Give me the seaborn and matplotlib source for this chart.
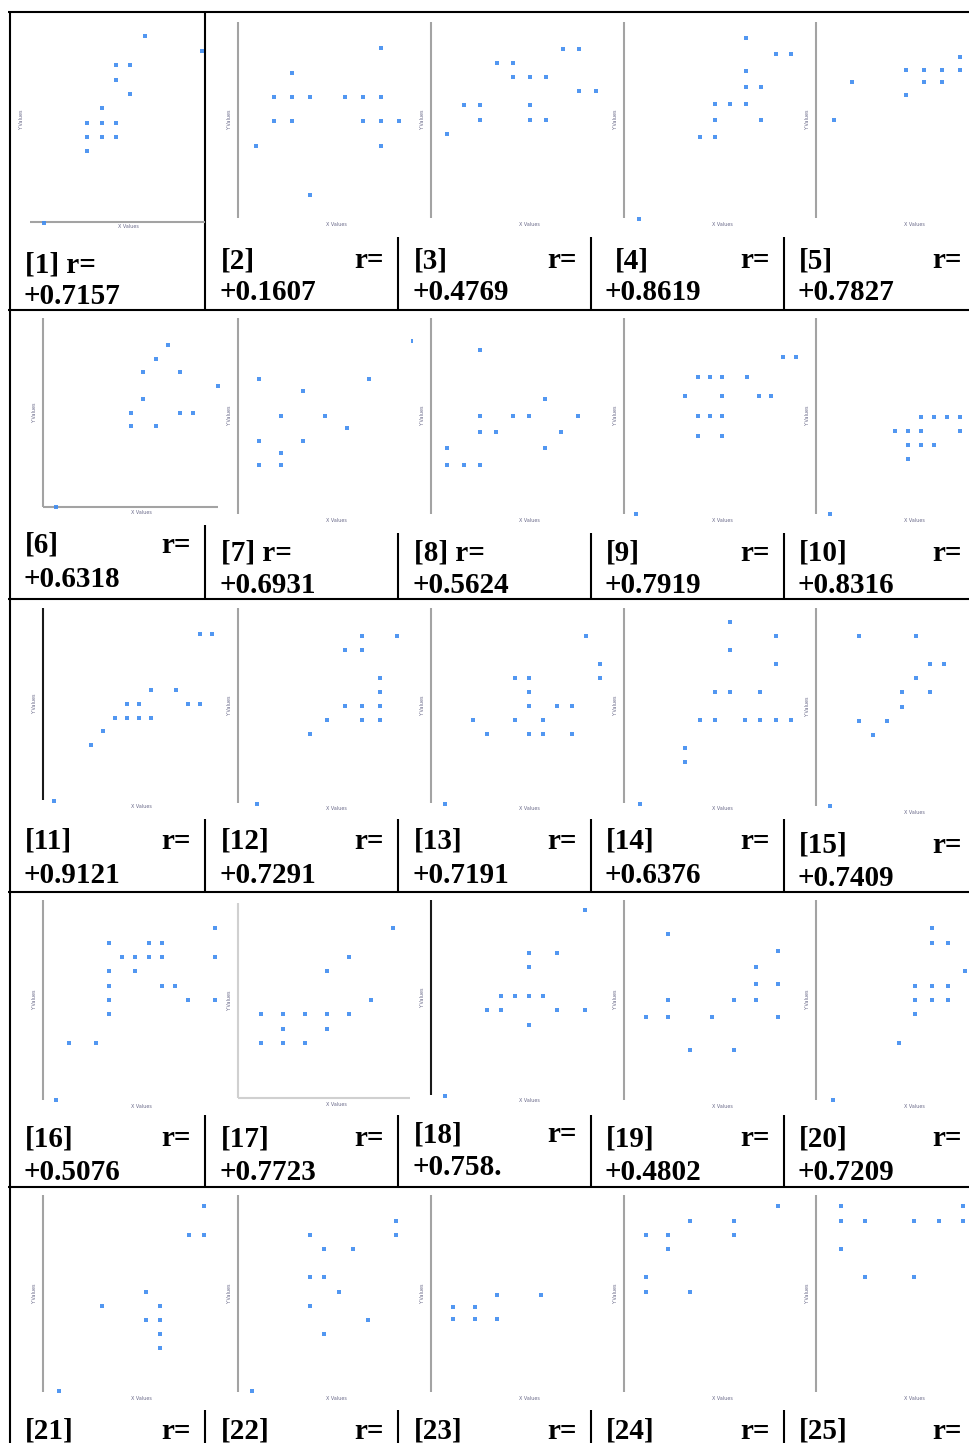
import numpy as np
import pandas as pd
import seaborn as sns
import matplotlib
matplotlib.use('Agg')
import matplotlib.pyplot as plt

# Points of each small scatter, on the integer grid of its own chart
x01 = [0, 3, 3, 4, 5, 3, 4, 5, 4, 6, 5, 5, 6, 7, 11]
y01 = [0, 5, 6, 6, 6, 7, 7, 7, 8, 9, 10, 11, 11, 13, 12]
x02 = [8, 3, 2, 3, 4, 6, 7, 8, 2, 3, 7, 8, 9, 1, 8, 4]
y02 = [7, 6, 5, 5, 5, 5, 5, 5, 4, 4, 4, 4, 4, 3, 3, 1]
x03 = [8, 9, 4, 5, 5, 6, 7, 9, 10, 2, 3, 6, 3, 6, 7, 1]
y03 = [12, 12, 11, 11, 10, 10, 10, 9, 9, 8, 8, 8, 7, 7, 7, 6]
x04 = [1, 5, 6, 6, 9, 6, 7, 8, 8, 9, 8, 10, 11, 8]
y04 = [0, 5, 5, 6, 6, 7, 7, 7, 8, 8, 9, 10, 10, 11]
x05 = [1, 2, 5, 5, 6, 7, 8, 6, 7, 8]
y05 = [8, 11, 10, 12, 12, 12, 12, 11, 11, 13]
x06 = [1, 7, 9, 7, 11, 12, 8, 14, 8, 11, 9, 10]
y06 = [0, 6, 6, 7, 7, 7, 8, 9, 10, 10, 11, 12]
x07 = [1, 6, 3, 2, 4, 5, 1, 3, 2, 1, 2, 8]
y07 = [11, 11, 10, 8, 8, 7, 6, 6, 5, 4, 4, 14]
x08 = [3, 7, 3, 5, 6, 9, 3, 4, 8, 1, 7, 1, 2, 3]
y08 = [10, 7, 6, 6, 6, 6, 5, 5, 5, 4, 4, 3, 3, 3]
x09 = [1, 6, 8, 6, 7, 8, 5, 8, 11, 12, 6, 7, 8, 10, 13, 14]
y09 = [0, 4, 4, 5, 5, 5, 6, 6, 6, 6, 7, 7, 7, 7, 8, 8]
x10 = [1, 8, 9, 10, 11, 6, 7, 8, 11, 7, 8, 9, 7]
y10 = [0, 7, 7, 7, 7, 6, 6, 6, 6, 5, 5, 5, 4]
x11 = [13, 14, 9, 11, 7, 8, 12, 13, 6, 7, 8, 9, 5, 4, 1]
y11 = [12, 12, 8, 8, 7, 7, 7, 7, 6, 6, 6, 6, 5, 4, 0]
x12 = [7, 9, 6, 7, 8, 8, 6, 7, 8, 5, 7, 8, 4, 1]
y12 = [12, 12, 11, 11, 9, 8, 7, 7, 7, 6, 6, 6, 5, 0]
x13 = [11, 12, 12, 6, 7, 7, 7, 9, 10, 3, 6, 8, 4, 7, 8, 10, 1]
y13 = [12, 10, 9, 9, 9, 8, 7, 7, 7, 6, 6, 6, 5, 5, 5, 5, 0]
x14 = [7, 7, 10, 10, 6, 7, 9, 5, 6, 8, 9, 10, 11, 4, 4, 1]
y14 = [13, 11, 12, 10, 8, 8, 8, 6, 6, 6, 6, 6, 6, 4, 3, 0]
x15 = [3, 7, 8, 9, 7, 6, 8, 6, 3, 5, 4, 1]
y15 = [12, 12, 10, 10, 9, 8, 8, 7, 6, 6, 5, 0]
x16 = [5, 8, 9, 6, 7, 8, 9, 5, 7, 5, 9, 10, 5, 13, 13, 13, 11, 5, 2, 4, 1]
y16 = [11, 11, 11, 10, 10, 10, 10, 9, 9, 8, 8, 8, 7, 12, 10, 7, 7, 6, 4, 4, 0]
x17 = [7, 5, 4, 6, 1, 2, 3, 4, 5, 2, 4, 1, 2, 3]
y17 = [12, 10, 9, 7, 6, 6, 6, 6, 6, 5, 5, 4, 4, 4]
x18 = [11, 7, 9, 7, 5, 6, 7, 8, 4, 5, 9, 11, 7, 1]
y18 = [13, 10, 10, 9, 7, 7, 7, 7, 6, 6, 6, 6, 5, 0]
x19 = [2, 7, 6, 5, 6, 2, 1, 4, 6, 7, 7, 3, 5, 2]
y19 = [10, 9, 8, 6, 6, 5, 5, 5, 7, 7, 5, 3, 3, 6]
x20 = [7, 7, 8, 6, 7, 8, 9, 6, 7, 8, 6, 5, 1]
y20 = [12, 11, 11, 8, 8, 8, 9, 7, 7, 7, 6, 4, 0]
x21 = [10, 11, 11, 4, 7, 8, 7, 8, 8, 8, 1]
y21 = [11, 11, 13, 6, 7, 6, 5, 5, 4, 3, 0]
x22 = [5, 6, 8, 5, 6, 7, 5, 6, 9, 11, 11, 1]
y22 = [11, 10, 10, 8, 8, 7, 6, 4, 5, 12, 11, 0]
x23 = [1, 2, 3, 1, 2, 3, 5]
y23 = [7, 7, 8, 6, 6, 6, 8]
x24 = [1, 2, 3, 5, 5, 7, 2, 1, 1, 3]
y24 = [11, 11, 12, 12, 11, 13, 10, 8, 7, 7]
x25 = [1, 1, 2, 4, 5, 6, 6, 1, 2, 4]
y25 = [13, 12, 12, 12, 12, 13, 12, 10, 8, 8]

r_values = ['+0.7157', '+0.1607', '+0.4769', '+0.8619', '+0.7827',
            '+0.6318', '+0.6931', '+0.5624', '+0.7919', '+0.8316',
            '+0.9121', '+0.7291', '+0.7191', '+0.6376', '+0.7409',
            '+0.5076', '+0.7723', '+0.758.', '+0.4802', '+0.7209',
            '', '', '', '', '']
joined = [1, 7, 8]   # captions written "[n] r=" on one run

xs = [x01, x02, x03, x04, x05, x06, x07, x08, x09, x10, x11, x12, x13,
      x14, x15, x16, x17, x18, x19, x20, x21, x22, x23, x24, x25]
ys = [y01, y02, y03, y04, y05, y06, y07, y08, y09, y10, y11, y12, y13,
      y14, y15, y16, y17, y18, y19, y20, y21, y22, y23, y24, y25]

# ---- layout (pixels) ----
W, H = 969, 1443
cols = [10, 205, 398, 591, 784, 969]
rows_img = [(13, 237), (311, 525), (600, 818), (893, 1115), (1188, 1408)]
row_lines = [12, 310, 599, 892, 1187]
cap_top = [237, 533, 819, 1115, 1410]
# grid origin and step of every chart: x0, dx, y0, dy
grid = [(44, 14.4, 223, 14.35), (238, 17.9, 219, 24.4), (431, 16.45, 219, 14.2),
        (624, 15.2, 219, 16.5), (816, 18, 221, 12.6),
        (43, 12.5, 507, 13.5), (237, 22, 515, 12.4), (431, 16.3, 514, 16.4),
        (624, 12.25, 514, 19.6), (817, 13, 514, 13.8),
        (42, 12.15, 801, 13.9), (240, 17.45, 804, 14), (431, 14.05, 804, 14),
        (624.5, 15.1, 804, 14), (816, 14.25, 806, 14.2),
        (43, 13.2, 1100, 14.3), (239, 22, 1100, 14.3), (431, 14, 1096, 14.3),
        (624, 22, 1100, 16.6), (816, 16.5, 1100, 14.3),
        (44, 14.5, 1391, 14.2), (238, 14.4, 1391, 14.2), (431, 22, 1391, 12),
        (624, 22, 1391, 14.2), (816, 24.5, 1391, 14.2)]
# vertical axis line of each chart: x, top, bottom, colour
axis_v = [None, (238, 22, 218, 'g'), (431, 22, 218, 'g'), (624, 22, 218, 'g'), (816, 22, 218, 'g'),
          (43, 318, 507, 'g'), (238, 318, 514, 'g'), (431, 318, 514, 'g'), (624, 318, 514, 'g'), (816, 318, 514, 'g'),
          (43, 608, 800, 'k'), (238, 608, 803, 'g'), (431, 608, 803, 'g'), (624, 608, 803, 'g'), (816, 608, 806, 'g'),
          (43, 900, 1100, 'g'), (238, 903, 1098, 'l'), (431, 900, 1095, 'k'), (624, 900, 1100, 'g'), (816, 900, 1100, 'g'),
          (43, 1195, 1392, 'g'), (238, 1195, 1392, 'g'), (431, 1195, 1392, 'g'), (624, 1195, 1392, 'g'), (816, 1195, 1392, 'g')]
axis_col = {'g': '#a3a3a3', 'k': '#1a1a1a', 'l': '#d0d0d0'}
text_x = [25, 221, 414, 606, 799]
r_right = [191, 384, 577, 770, 962]
base = [(268, 300), (561, 593), (849, 883), (1146, 1180), (1439, 1470)]
base_fix = {1: (273, 304), 6: (553, 587), 15: (853, 886), 18: (1142, 1175)}

BLUE = '#3f8cf0'
serif = dict(family=['Liberation Serif', 'DejaVu Serif'], weight='bold', size=21, color='black')

sns.set_style('white')
fig = plt.figure(figsize=(W / 100, H / 100), dpi=100)
bg = fig.add_axes([0, 0, 1, 1])
bg.set_xlim(0, W)
bg.set_ylim(H, 0)
bg.axis('off')

def line(x1, y1, x2, y2, c='black', lw=1.5):
    bg.plot([x1, x2], [y1, y2], color=c, lw=lw, solid_capstyle='butt')

# table rules
for y in row_lines:
    line(8, y, W, y)
line(10, 12, 10, H)
line(205, 12, 205, 310)
for r in range(5):
    for c in range(1, 5):
        top = cap_top[r]
        if r == 1 and c == 1:
            top = 525
        if r == 0 and c == 1:
            continue
        bottom = row_lines[r + 1] if r < 4 else H
        line(cols[c], top, cols[c], bottom)

# extra axis lines
line(30, 222, 205, 222, '#a3a3a3', 1.5)        # chart 1 x axis
line(43, 507, 218, 507, '#a3a3a3', 1.5)        # chart 6 x axis
line(238, 1098, 410, 1098, '#d0d0d0', 1.5)     # chart 17 x axis

for i in range(25):
    n = i + 1
    r, c = divmod(i, 5)
    T, B = rows_img[r]
    L = cols[c] + 1
    R = cols[c + 1] + 14 if c < 4 else W
    x0, dx, y0, dy = grid[i]
    ax = fig.add_axes([L / W, 1 - B / H, (R - L) / W, (B - T) / H])
    ax.patch.set_alpha(0)
    df = pd.DataFrame({'x': xs[i], 'y': ys[i]})
    sns.scatterplot(data=df, x='x', y='y', ax=ax, marker='s', s=10,
                    color=BLUE, linewidth=0, alpha=0.9, legend=False)
    ax.set_xlim((L - x0) / dx, (R - x0) / dx)
    ax.set_ylim((y0 - B) / dy, (y0 - T) / dy)
    ax.axis('off')

    # axis line and tiny axis titles
    if axis_v[i] is not None:
        ax_x, at, ab, col = axis_v[i]
        line(ax_x, at, ax_x, ab, axis_col[col], 1.5)
        ylab_x, ymid, xlab_y = ax_x - 8, (at + ab) / 2, ab + 6
    else:
        ax_x, ylab_x, ymid, xlab_y = 30, 22, 120, 226
    bg.text(ylab_x, ymid, 'Y Values', rotation=90, ha='center', va='center',
            fontsize=3.5, color='#6b6b8a')
    bg.text(ax_x + 98, xlab_y, 'X Values', ha='center', va='center',
            fontsize=3.5, color='#6b6b8a')

    # caption
    b1, b2 = base_fix.get(n, base[r])
    tx = text_x[c]
    if n in joined:
        bg.text(tx, b1, f'[{n}] r=', ha='left', va='baseline', **serif)
    else:
        bg.text(615 if n == 4 else tx, b1, f'[{n}]', ha='left', va='baseline', **serif)
        bg.text(r_right[c], b1, 'r=', ha='right', va='baseline', **serif)
    if r_values[i]:
        bg.text(605 if c == 3 else tx - 1, b2, r_values[i], ha='left', va='baseline', **serif)

fig.savefig('out.png', dpi=100)
